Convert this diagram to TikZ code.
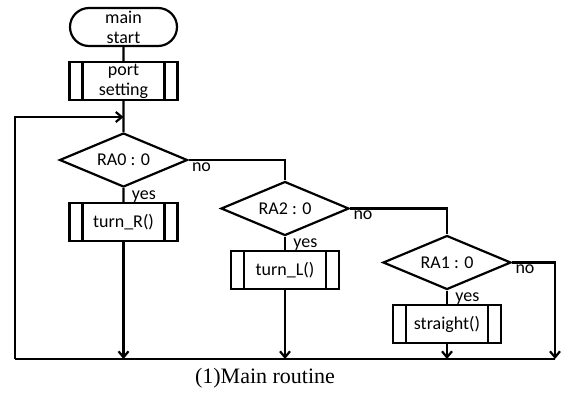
\documentclass[tikz,border=0pt]{standalone}
\usepackage{fontspec}
\setmainfont{Carlito}
\newfontfamily\capfont{Liberation Serif}
\usetikzlibrary{positioning,shapes.geometric,shapes.misc,arrows.meta}

\tikzset{
    flow/.style={draw, line width=1.1pt, align=center, inner sep=0pt,
        font=\fontsize{9}{10}\selectfont},
    startstop/.style={flow, rounded rectangle, minimum width=53.5pt, minimum height=19pt},
    subproc/.style={flow, rectangle, minimum width=54pt, minimum height=19pt,
        path picture={\draw[line width=1.1pt]
            ([xshift=6.5pt]path picture bounding box.north west) -- ([xshift=6.5pt]path picture bounding box.south west)
            ([xshift=-6.5pt]path picture bounding box.north east) -- ([xshift=-6.5pt]path picture bounding box.south east);}},
    decision/.style={flow, diamond, aspect=2.4, minimum width=64pt, minimum height=27pt},
    lbl/.style={inner sep=1pt, font=\fontsize{9}{10}\selectfont},
    line/.style={line width=1.1pt},
    arrow/.style={line, -{Straight Barb[length=3pt,width=5pt]}}
}

\begin{document}
\begin{tikzpicture}[on grid]
    \useasboundingbox (0,0) rectangle (280.5pt,-196pt);
    \node[startstop] (start) at (61.75pt,-13.5pt) {main\\start};
    \node[subproc, below=27pt of start] (port) {port\\setting};
    \coordinate[below=18pt of port] (loop);
    \node[decision, below=39.5pt of port] (ra0) {RA0 : 0};
    \node[subproc, below=31pt of ra0] (turnR) {turn\_R()};
    \node[decision, below right=24.25pt and 80.75pt of ra0] (ra2) {RA2 : 0};
    \node[subproc, below=30.75pt of ra2] (turnL) {turn\_L()};
    \node[decision, below right=27pt and 81pt of ra2] (ra1) {RA1 : 0};
    \node[subproc, below=30.75pt of ra1] (straight) {straight()};
    \coordinate (botL) at (7.5pt,-179.5pt);
    \coordinate (botR) at (277.5pt,-179.5pt);

    % labels
    \node[lbl, anchor=north west] (no0) at ([xshift=0.5pt]ra0.east) {no};
    \node[lbl, anchor=north west] (yes0) at ([xshift=3pt]ra0.south) {yes};
    \node[lbl, anchor=north west] (no2) at ([xshift=0.5pt]ra2.east) {no};
    \node[lbl, anchor=north west] (yes2) at ([xshift=3pt]ra2.south) {yes};
    \node[lbl, anchor=north west] (no1) at ([xshift=0.5pt]ra1.east) {no};
    \node[lbl, anchor=north west] (yes1) at ([xshift=3pt]ra1.south) {yes};

    \draw[line] (start) -- (port) -- (ra0) -- (turnR);
    \draw[line] (botL) -- (botR);
    \draw[arrow] (botL) |- (loop);
    \draw[arrow] (turnR) -- (turnR |- botL);
    \draw[line] (ra0.east) -| (ra2.north);
    \draw[line] (ra2) -- (turnL);
    \draw[arrow] (turnL) -- (turnL |- botL);
    \draw[line] (ra2.east) -| (ra1.north);
    \draw[line] (ra1) -- (straight);
    \draw[arrow] (straight) -- (straight |- botL);
    \draw[arrow] (ra1.east) -| (botR);

    \node[font=\capfont\fontsize{11}{12}\selectfont] (caption) at (132.5pt,-189pt) {(1)Main routine};
\end{tikzpicture}
\end{document}
